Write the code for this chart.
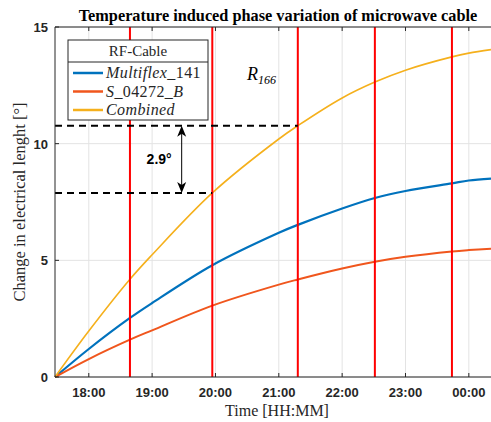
<!DOCTYPE html>
<html>
<head>
<meta charset="utf-8">
<script src="https://cdn.jsdelivr.net/npm/d3@7"></script>
<style>
  body { margin: 0; background: #fff; }
  svg { display: block; }
</style>
</head>
<body>
<div id="chart"></div>
<script>
/** Data **/
const times = ['17:28', '18:00', '18:39', '19:00', '19:57', '21:00', '21:18',
  '22:00', '22:31', '23:00', '23:44', '00:00', '00:21'];
const multiflex = [0, 1.2, 2.53, 3.17, 4.79, 6.18, 6.52, 7.22, 7.67, 7.97, 8.3, 8.42, 8.5];
const s04272 = [0, 0.77, 1.6, 2.0, 3.06, 3.96, 4.18, 4.65, 4.94, 5.15, 5.38, 5.44, 5.5];
const combined = [0, 1.97, 4.19, 5.24, 7.89, 10.2, 10.77, 11.96, 12.64, 13.15, 13.72, 13.88, 14.03];

const seriesNames = ['Multiflex_141', 'S_04272_B', 'Combined'];
const xTickLabels = ['18:00', '19:00', '20:00', '21:00', '22:00', '23:00', '00:00'];
const yTicks = [0, 5, 10, 15];
const timeRange = ['17:28', '00:21'];

const markerTimes = ['18:39', '19:57', '21:18', '22:31', '23:44'];
const levels = [10.77, 7.89];
const levelEnds = ['21:18', '19:57'];
const arrowTime = '19:28';

/** Layout **/
const width = 491;
const height = 422;
const margin = { top: 27, bottom: 45, left: 55, right: 0 };
const colors = ['#0072bd', '#f0561d', '#f5b01c'];
const lineWidths = [2.2, 2, 1.6];

const parse = d3.timeParse('%H:%M');
const toDate = (s) => {
  const d = parse(s);
  if (d.getHours() < 12) d.setDate(d.getDate() + 1);
  return d;
};

const svg = d3
  .select('#chart')
  .append('svg')
  .attr('width', width)
  .attr('height', height);

const x = d3
  .scaleTime()
  .domain(timeRange.map(toDate))
  .range([margin.left, width - margin.right]);
const y = d3
  .scaleLinear()
  .domain([0, 15])
  .range([height - margin.bottom, margin.top]);

const x0 = x.range()[0], x1 = x.range()[1];
const y0 = y.range()[0], y1 = y.range()[1];

/** Grid **/
const grid = svg.append('g').attr('stroke', '#e3e3e3').attr('stroke-width', 1);
grid.selectAll('.gx')
  .data(xTickLabels)
  .join('line')
  .attr('x1', (d) => x(toDate(d)))
  .attr('x2', (d) => x(toDate(d)))
  .attr('y1', y1)
  .attr('y2', y0);
grid.selectAll('.gy')
  .data(yTicks)
  .join('line')
  .attr('x1', x0)
  .attr('x2', x1)
  .attr('y1', (d) => y(d))
  .attr('y2', (d) => y(d));

/** Curves **/
const data = [multiflex, s04272, combined].map((vals) =>
  vals.map((v, i) => ({ t: toDate(times[i]), v }))
);
const line = d3
  .line()
  .x((d) => x(d.t))
  .y((d) => y(d.v))
  .curve(d3.curveCatmullRom.alpha(0.5));

svg.append('g')
  .selectAll('path')
  .data(data)
  .join('path')
  .attr('fill', 'none')
  .attr('stroke', (d, i) => colors[i])
  .attr('stroke-width', (d, i) => lineWidths[i])
  .attr('d', line);

/** Red vertical markers **/
svg.append('g')
  .selectAll('line')
  .data(markerTimes)
  .join('line')
  .attr('x1', (d) => x(toDate(d)))
  .attr('x2', (d) => x(toDate(d)))
  .attr('y1', y1)
  .attr('y2', y0)
  .attr('stroke', '#ff0000')
  .attr('stroke-width', 2);

/** Dashed levels **/
svg.append('g')
  .selectAll('line')
  .data(levels)
  .join('line')
  .attr('x1', x0)
  .attr('x2', (d, i) => x(toDate(levelEnds[i])))
  .attr('y1', (d) => y(d))
  .attr('y2', (d) => y(d))
  .attr('stroke', '#000')
  .attr('stroke-width', 2)
  .attr('stroke-dasharray', '7,5');

/** Double arrow **/
const ax = x(toDate(arrowTime));
const ya = y(levels[0]), yb = y(levels[1]);
svg.append('line')
  .attr('x1', ax).attr('x2', ax)
  .attr('y1', ya + 4).attr('y2', yb - 4)
  .attr('stroke', '#000')
  .attr('stroke-width', 1);
const head = (tipY, dir) =>
  `M${ax},${tipY} L${ax - 4.5},${tipY + dir * 11} L${ax},${tipY + dir * 8} L${ax + 4.5},${tipY + dir * 11} Z`;
svg.append('path').attr('d', head(ya, 1)).attr('fill', '#000');
svg.append('path').attr('d', head(yb, -1)).attr('fill', '#000');

svg.append('text')
  .attr('x', ax - 10)
  .attr('y', (ya + yb) / 2 + 5)
  .attr('text-anchor', 'end')
  .attr('font-family', 'Liberation Sans, Arial, sans-serif')
  .attr('font-weight', 'bold')
  .attr('font-size', 14)
  .text(`${d3.format('.1f')(levels[0] - levels[1])}°`);

/** Axes box **/
const axisColor = '#262626';
svg.append('line')
  .attr('x1', x0).attr('x2', x1).attr('y1', y0).attr('y2', y0)
  .attr('stroke', axisColor);
svg.append('line')
  .attr('x1', x0).attr('x2', x1).attr('y1', y1).attr('y2', y1)
  .attr('stroke', axisColor);
svg.append('line')
  .attr('x1', x0).attr('x2', x0).attr('y1', y1).attr('y2', y0)
  .attr('stroke', axisColor);

// inward ticks
const ticks = svg.append('g').attr('stroke', axisColor);
xTickLabels.forEach((d) => {
  const px = x(toDate(d));
  ticks.append('line').attr('x1', px).attr('x2', px).attr('y1', y0).attr('y2', y0 - 4);
  ticks.append('line').attr('x1', px).attr('x2', px).attr('y1', y1).attr('y2', y1 + 4);
});
yTicks.forEach((d) => {
  ticks.append('line').attr('x1', x0).attr('x2', x0 + 4).attr('y1', y(d)).attr('y2', y(d));
});

// tick labels
svg.append('g')
  .selectAll('text')
  .data(xTickLabels)
  .join('text')
  .attr('x', (d) => x(toDate(d)))
  .attr('y', y0 + 20)
  .attr('text-anchor', 'middle')
  .attr('font-family', 'Liberation Sans, Arial, sans-serif')
  .attr('font-weight', 'bold')
  .attr('font-size', 13)
  .attr('fill', '#262626')
  .text((d) => d);
svg.append('g')
  .selectAll('text')
  .data(yTicks)
  .join('text')
  .attr('x', x0 - 7)
  .attr('y', (d) => y(d) + 5)
  .attr('text-anchor', 'end')
  .attr('font-family', 'Liberation Sans, Arial, sans-serif')
  .attr('font-weight', 'bold')
  .attr('font-size', 13)
  .attr('fill', '#262626')
  .text((d) => d);

/** Titles **/
const serif = 'Liberation Serif, Times New Roman, serif';
svg.append('text')
  .attr('x', (x0 + x1) / 2 + 5)
  .attr('y', 21)
  .attr('text-anchor', 'middle')
  .attr('font-family', serif)
  .attr('font-weight', 'bold')
  .attr('font-size', 16.3)
  .text('Temperature induced phase variation of microwave cable');
svg.append('text')
  .attr('x', (x0 + x1) / 2 + 4)
  .attr('y', 416)
  .attr('text-anchor', 'middle')
  .attr('font-family', serif)
  .attr('font-size', 16)
  .attr('fill', '#262626')
  .text('Time [HH:MM]');
svg.append('text')
  .attr('transform', `translate(25, ${(y0 + y1) / 2}) rotate(-90)`)
  .attr('text-anchor', 'middle')
  .attr('font-family', serif)
  .attr('font-size', 16.5)
  .attr('fill', '#262626')
  .text('Change in electrical lenght [°]');

// R_166 annotation
const r = svg.append('text')
  .attr('x', 247)
  .attr('y', 80)
  .attr('font-family', serif)
  .attr('font-style', 'italic')
  .attr('font-size', 18);
r.append('tspan').text('R');
r.append('tspan').attr('font-size', 12).attr('dy', 4).text('166');

/** Legend **/
const lg = svg.append('g').attr('transform', 'translate(68, 40)');
lg.append('rect')
  .attr('width', 140).attr('height', 80)
  .attr('fill', '#fff')
  .attr('stroke', '#262626')
  .attr('stroke-width', 1);
lg.append('line')
  .attr('x1', 0).attr('x2', 140).attr('y1', 22).attr('y2', 22)
  .attr('stroke', '#262626');
lg.append('text')
  .attr('x', 70).attr('y', 16)
  .attr('text-anchor', 'middle')
  .attr('font-family', serif)
  .attr('font-size', 15)
  .attr('fill', '#262626')
  .text('RF-Cable');

// letters italic, digits upright (math style)
const pieces = (name) => name.match(/[0-9]+|[^0-9]+/g);
const entries = lg.selectAll('.entry')
  .data(seriesNames)
  .join('g')
  .attr('transform', (d, i) => `translate(0, ${33 + i * 18.5})`);
entries.append('line')
  .attr('x1', 5).attr('x2', 35)
  .attr('stroke', (d, i) => colors[i])
  .attr('stroke-width', 2.5);
const lt = entries.append('text')
  .attr('x', 38).attr('y', 5)
  .attr('font-family', serif)
  .attr('font-size', 16)
  .attr('letter-spacing', 0.4)
  .attr('fill', '#262626');
lt.selectAll('tspan')
  .data((d) => pieces(d))
  .join('tspan')
  .attr('font-style', (p) => (/[0-9]/.test(p) ? 'normal' : 'italic'))
  .text((p) => p);
</script>
</body>
</html>
